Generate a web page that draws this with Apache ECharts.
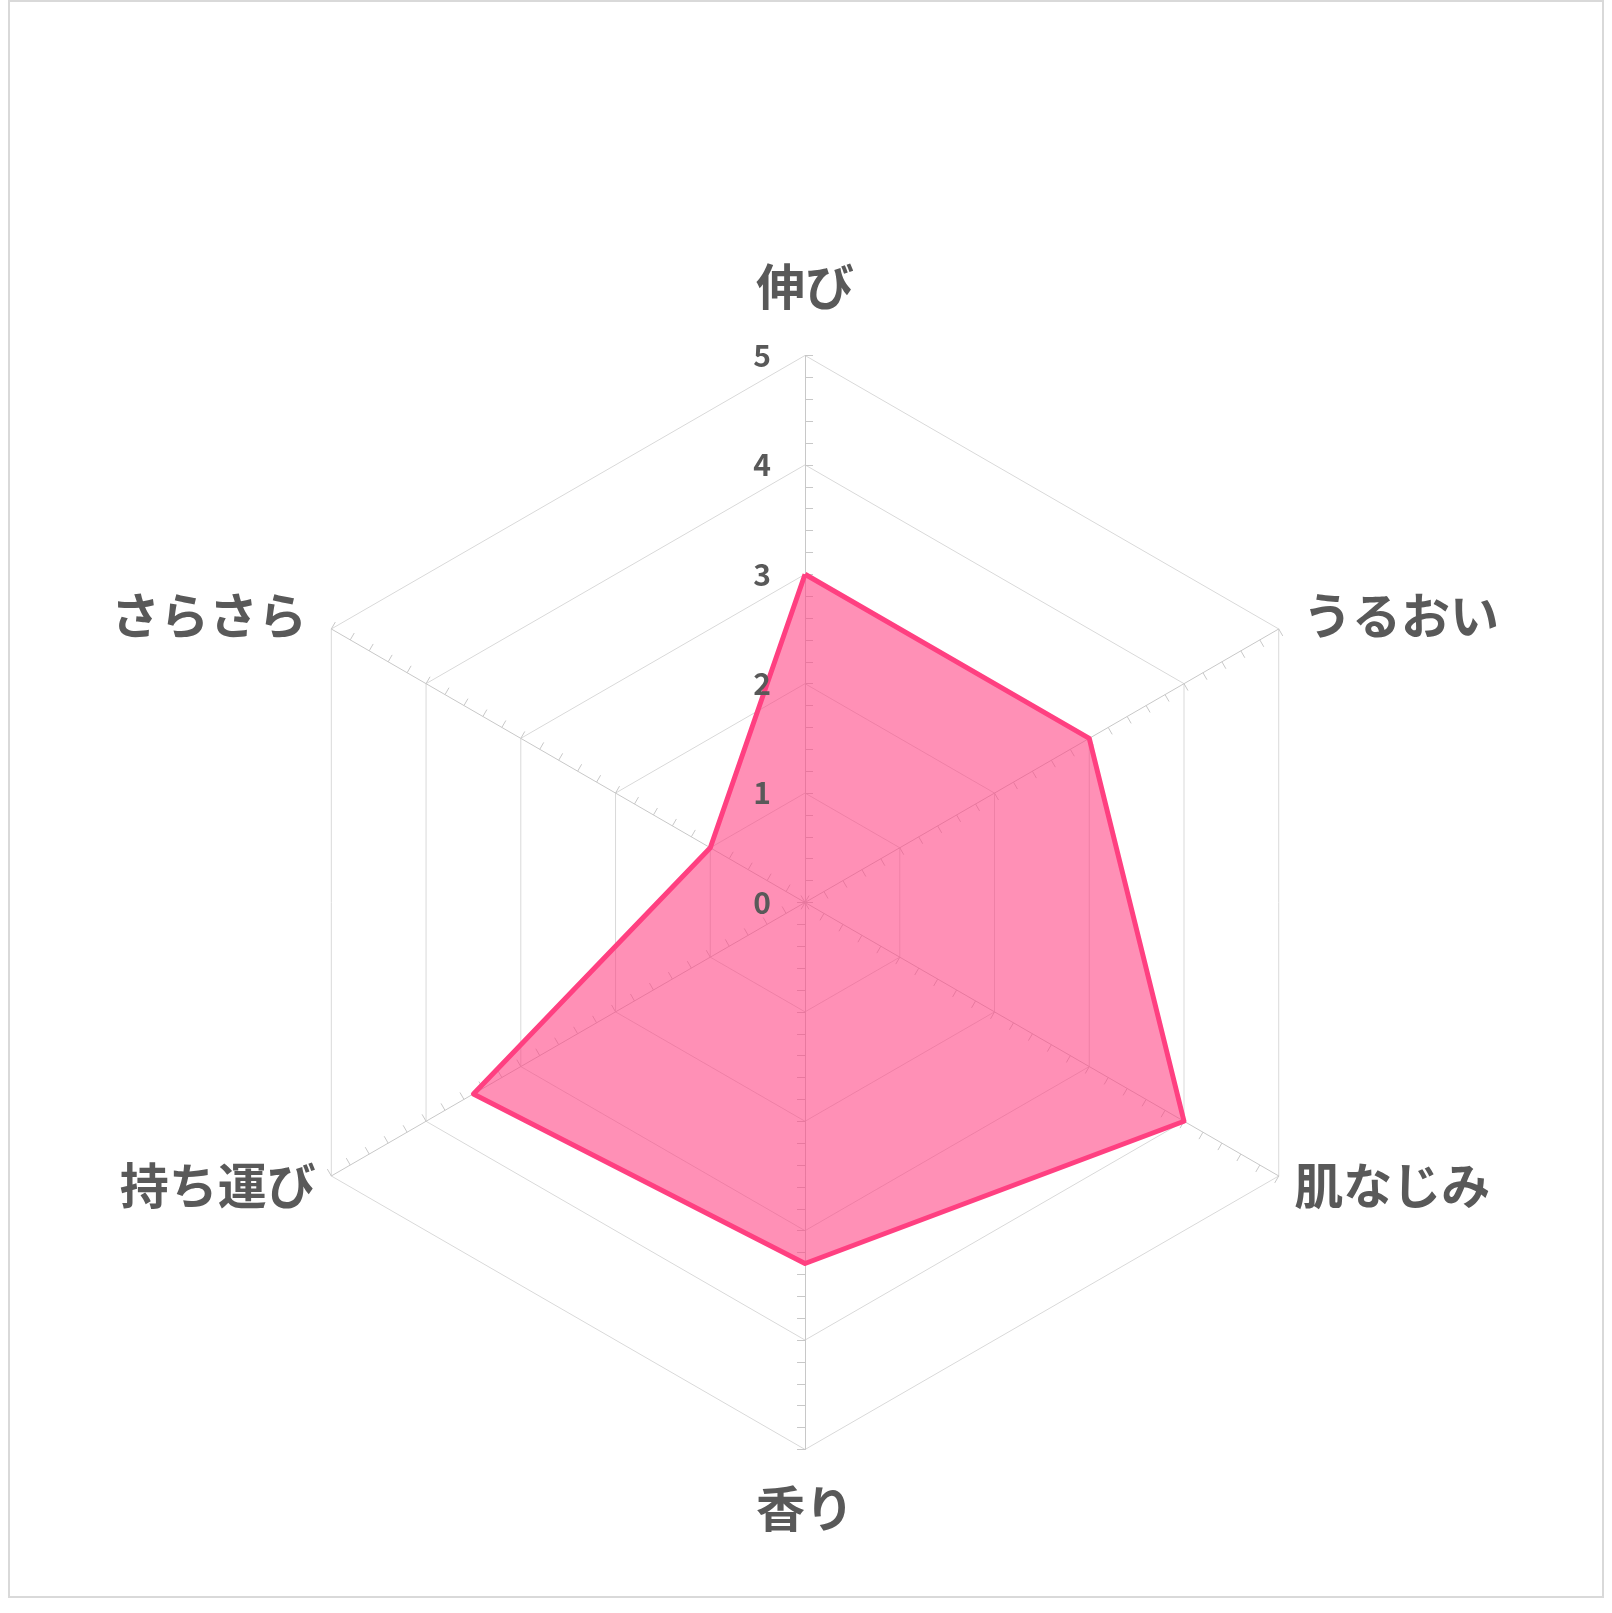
<!DOCTYPE html>
<html>
<head>
<meta charset="utf-8">
<script src="https://cdn.jsdelivr.net/npm/echarts@6/dist/echarts.min.js"></script>
<style>
  html, body { margin: 0; padding: 0; background: #fff; }
  #frame { position: absolute; left: 8px; top: 0px; width: 1592px; height: 1594px; border: 2px solid #d9d9d9; box-sizing: content-box; }
  #chart { position: absolute; left: 0; top: 0; width: 1612px; height: 1613px; }
</style>
</head>
<body>
<div id="frame"></div>
<div id="chart"></div>
<script>
// Categories in clockwise order starting from the top
const categories = ['伸び', 'うるおい', '肌なじみ', '香り', '持ち運び', 'さらさら'];
const values = [3, 3, 4, 3.3, 3.5, 1];
const maxValue = 5;
const tickLabels = ['0', '1', '2', '3', '4', '5'];
// per-category distance of the name from the axis end
const nameGaps = [45, 28, 18, 34, 18, 28];

// ECharts lays radar indicators out counter-clockwise; reorder to draw clockwise
const order = [0, 5, 4, 3, 2, 1];

const chart = echarts.init(document.getElementById('chart'), null, { renderer: 'canvas' });

const labelStyle = {
  color: '#595959',
  fontSize: 30,
  fontWeight: 'bold',
  fontFamily: 'Noto Sans CJK JP',
  margin: 34,
  formatter: (v) => tickLabels[Math.round(v)] ?? ''
};

const indicators = order.map((i) => ({
  name: categories[i],
  min: 0,
  max: maxValue,
  nameGap: nameGaps[i],
  minorTick: { show: true, splitNumber: 5, length: -8, lineStyle: { color: '#c8c8c8', width: 1 } }
}));

// overlay radar: only the value labels of the top axis, drawn above the filled area
const labelIndicators = order.map((i) => ({
  name: '',
  min: 0,
  max: maxValue,
  axisLabel: Object.assign({ show: i === 0 }, labelStyle)
}));

const common = {
  center: ['49.94%', '55.95%'],
  radius: 547,
  startAngle: 90,
  splitNumber: 5,
  shape: 'polygon'
};

chart.setOption({
  backgroundColor: 'transparent',
  animation: false,
  radar: [
    Object.assign({}, common, {
      indicator: indicators,
      axisName: {
        color: '#595959',
        fontSize: 49,
        fontWeight: 'bold',
        fontFamily: 'Noto Sans CJK JP'
      },
      axisLine: { lineStyle: { color: '#c8c8c8', width: 1 } },
      axisTick: { show: true, length: -8, lineStyle: { color: '#c8c8c8', width: 1 } },
      axisLabel: { show: false },
      splitLine: { lineStyle: { color: '#d9d9d9', width: 1 } },
      splitArea: { show: false }
    }),
    Object.assign({}, common, {
      z: 10,
      indicator: labelIndicators,
      axisName: { show: false },
      axisLine: { show: false },
      axisTick: { show: false },
      axisLabel: labelStyle,
      splitLine: { show: false },
      splitArea: { show: false }
    })
  ],
  series: [{
    type: 'radar',
    radarIndex: 0,
    symbol: 'none',
    lineStyle: { color: '#ff4081', width: 5 },
    areaStyle: { color: '#ff4081', opacity: 0.58 },
    data: [{ value: order.map((i) => values[i]), name: 'score' }]
  }]
});
</script>
</body>
</html>
